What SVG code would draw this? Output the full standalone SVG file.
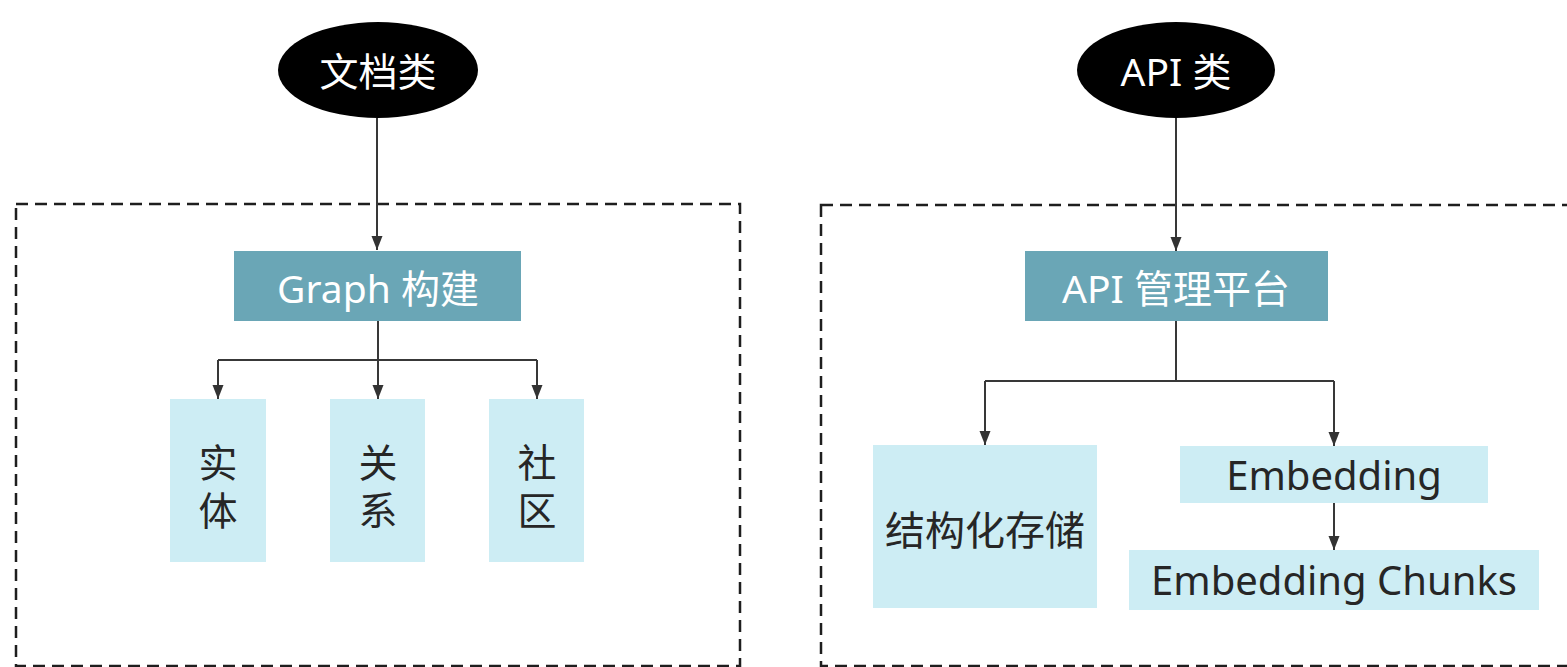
<svg xmlns="http://www.w3.org/2000/svg" width="1567" height="667" viewBox="0 0 1567 667">
<style>
.frame{fill:none;stroke:#1e1e1e;stroke-width:2.5;stroke-dasharray:12 7}
.oval{fill:#000}
.dark{fill:#6aa6b6}
.light{fill:#cdedf4}
.wt{fill:#fff;font-family:"Noto Sans","Noto Sans CJK SC",sans-serif;font-size:39px;text-anchor:middle;dominant-baseline:central}
.bt{fill:#262626;font-family:"Noto Sans","Noto Sans CJK SC",sans-serif;font-size:40px;text-anchor:middle;dominant-baseline:central}
.cj{fill:#262626;font-family:"Noto Sans CJK SC",sans-serif;font-size:39px;text-anchor:middle;dominant-baseline:central}
.con{fill:none;stroke:#383838;stroke-width:2}
</style>
<defs>
<marker id="ah" markerUnits="userSpaceOnUse" markerWidth="16" markerHeight="14" viewBox="0 0 16 14" refX="15" refY="7" orient="auto">
<path d="M1,1.5 L15,7 L1,12.5 Z" fill="#333"/>
</marker>
</defs>
<rect width="1567" height="667" fill="#fff"/>
<g id="frame-left"><rect class="frame" x="16" y="204" width="724" height="462"/></g>
<g id="frame-right"><rect class="frame" x="821" y="205" width="780" height="461"/></g>
<g id="connectors">
<path class="con" d="M377,118 V250" marker-end="url(#ah)"/>
<path class="con" d="M1176,118 V251" marker-end="url(#ah)"/>
<path class="con" d="M378,321 V360"/>
<path class="con" d="M218,360 H537"/>
<path class="con" d="M218,360 V399" marker-end="url(#ah)"/>
<path class="con" d="M378,360 V399" marker-end="url(#ah)"/>
<path class="con" d="M537,360 V399" marker-end="url(#ah)"/>
<path class="con" d="M1176,321 V381"/>
<path class="con" d="M985,381 H1334"/>
<path class="con" d="M985,381 V445" marker-end="url(#ah)"/>
<path class="con" d="M1334,381 V446" marker-end="url(#ah)"/>
<path class="con" d="M1334,503 V550" marker-end="url(#ah)"/>
</g>
<g id="doc"><ellipse class="oval" cx="378" cy="70" rx="100" ry="48"/><text class="wt" x="378" y="70">文档类</text></g>
<g id="api"><ellipse class="oval" cx="1176" cy="70" rx="99" ry="48"/><text class="wt" x="1176" y="70">API 类</text></g>
<g id="graph"><rect class="dark" x="234" y="251" width="287" height="70"/><text class="wt" x="378" y="287">Graph 构建</text></g>
<g id="entity"><rect class="light" x="170" y="399" width="96" height="163"/><text class="cj" x="218" y="460">实</text><text class="cj" x="218" y="508">体</text></g>
<g id="relation"><rect class="light" x="330" y="399" width="95" height="163"/><text class="cj" x="378" y="460">关</text><text class="cj" x="378" y="508">系</text></g>
<g id="community"><rect class="light" x="489" y="399" width="95" height="163"/><text class="cj" x="537" y="460">社</text><text class="cj" x="537" y="508">区</text></g>
<g id="apimgr"><rect class="dark" x="1025" y="251" width="303" height="70"/><text class="wt" x="1176" y="287">API 管理平台</text></g>
<g id="struct"><rect class="light" x="873" y="445" width="224" height="163"/><text class="bt" x="985" y="529">结构化存储</text></g>
<g id="embedding"><rect class="light" x="1180" y="446" width="308" height="57"/><text class="bt" x="1334" y="474">Embedding</text></g>
<g id="chunks"><rect class="light" x="1129" y="550" width="410" height="60"/><text class="bt" x="1334" y="579">Embedding Chunks</text></g>
</svg>
